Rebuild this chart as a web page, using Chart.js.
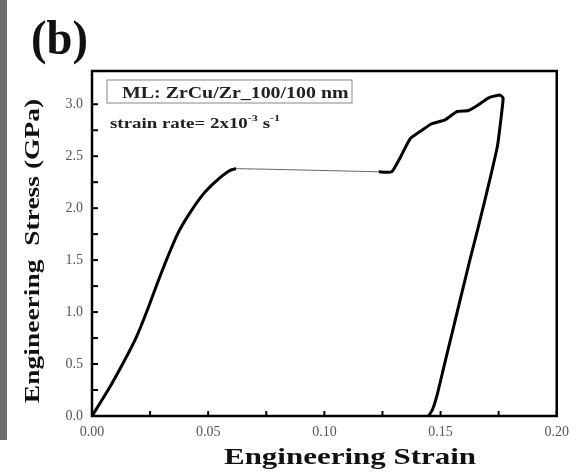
<!DOCTYPE html>
<html>
<head>
<meta charset="utf-8">
<script src="https://cdn.jsdelivr.net/npm/chart.js@4"></script>
<style>
  html, body { margin: 0; padding: 0; background: #fff; }
  #wrap { width: 577px; height: 474px; }
</style>
</head>
<body>
<div id="wrap"><canvas id="stressChart" width="577" height="474"></canvas></div>
<script>
// Engineering strain / stress
const strain = [0, 0.0077, 0.0134, 0.0191, 0.024, 0.028, 0.032, 0.037, 0.042, 0.0477, 0.0534, 0.0591, 0.062,
  0.1234, 0.129, 0.1327, 0.137, 0.142, 0.146, 0.152, 0.157, 0.162, 0.166, 0.1705, 0.1755, 0.1769,
  0.1762, 0.1745, 0.172, 0.169, 0.1658, 0.1626, 0.159, 0.1552, 0.1515, 0.1485, 0.1465, 0.1448];
const stress = [0, 0.28, 0.51, 0.76, 1.03, 1.27, 1.50, 1.76, 1.95, 2.13, 2.26, 2.36, 2.38,
  2.35, 2.35, 2.49, 2.67, 2.75, 2.81, 2.85, 2.93, 2.94, 2.99, 3.06, 3.09, 3.06,
  2.90, 2.60, 2.35, 2.07, 1.78, 1.50, 1.17, 0.82, 0.48, 0.20, 0.06, 0];
const xTicks = [0, 0.05, 0.10, 0.15, 0.20];
const yTicks = [0, 0.5, 1.0, 1.5, 2.0, 2.5, 3.0];

const serif = '"Liberation Serif", "DejaVu Serif", serif';

// text in the figure is a bit stretched sideways
function wideText(c, text, x, y, sx, font, align, rot) {
  c.save();
  c.translate(x, y);
  if (rot) c.rotate(rot);
  c.scale(sx, 1);
  c.font = font;
  c.textAlign = align;
  c.textBaseline = 'alphabetic';
  c.fillText(text, 0, 0);
  c.restore();
}

// frame, inward ticks, titles and text boxes
const decor = {
  id: 'decor',
  beforeDraw(chart) {
    const c = chart.ctx;
    c.save();
    c.fillStyle = '#6e6e6e';
    c.fillRect(0, 0, 7, 440);
    c.fillStyle = '#111';
    wideText(c, '(b)', 31, 54, 0.97, 'bold 48px ' + serif, 'left');
    c.restore();
  },
  afterDraw(chart) {
    const c = chart.ctx;
    const a = chart.chartArea;
    const xs = chart.scales.x, ys = chart.scales.y;
    c.save();
    c.strokeStyle = '#000';
    c.lineWidth = 2;
    for (let v = 0; v <= 0.2001; v += 0.025) {
      const px = xs.getPixelForValue(v);
      c.beginPath(); c.moveTo(px, a.bottom); c.lineTo(px, a.bottom - 5); c.stroke();
    }
    for (let v = 0; v <= 3.001; v += 0.25) {
      const py = ys.getPixelForValue(v);
      c.beginPath(); c.moveTo(a.left, py); c.lineTo(a.left + 6, py); c.stroke();
    }
    c.lineWidth = 2.5;
    c.strokeRect(a.left, a.top, a.right - a.left, a.bottom - a.top);

    // axis titles
    c.fillStyle = '#111';
    wideText(c, 'Engineering Strain', 350, 464, 1.29, 'bold 24px ' + serif, 'center');
    wideText(c, 'Engineering  Stress (GPa)', 39, 251, 1.25, 'bold 22px ' + serif, 'center', -Math.PI / 2);

    // annotation box
    c.lineWidth = 1;
    c.strokeStyle = '#888';
    c.strokeRect(a.left + 15, a.top + 9, 245, 23);
    c.fillStyle = '#222';
    wideText(c, 'ML: ZrCu/Zr_100/100 nm', a.left + 30, a.top + 27, 1.17, 'bold 17px ' + serif, 'left');

    c.save();
    c.translate(a.left + 18, a.top + 57);
    c.scale(1.35, 1);
    c.textBaseline = 'alphabetic';
    let x = 0;
    const put = (t, dy, f) => { c.font = f; c.fillText(t, x, dy); x += c.measureText(t).width; };
    put('strain rate= 2x10', 0, 'bold 14px ' + serif);
    put('-3', -7, 'bold 9px ' + serif);
    put(' s', 0, 'bold 14px ' + serif);
    put('-1', -7, 'bold 9px ' + serif);
    c.restore();
    c.restore();
  }
};

const plateau = s => s.p0.parsed.x >= 0.061 && s.p1.parsed.x <= 0.124;

const ctx = document.getElementById('stressChart').getContext('2d');
const stressChart = new Chart(ctx, {
  type: 'line',
  data: {
    datasets: [{
      data: strain.map((s, i) => ({ x: s, y: stress[i] })),
      borderColor: '#000',
      borderWidth: 3,
      pointRadius: 0,
      tension: 0.15,
      fill: false,
      segment: {
        borderWidth: s => (plateau(s) ? 1 : 3),
        borderColor: s => (plateau(s) ? '#666' : '#000'),
      },
    }],
  },
  options: {
    responsive: false,
    animation: false,
    layout: { padding: { left: 0, top: 71, right: 18, bottom: 0 } },
    plugins: { legend: { display: false }, tooltip: { enabled: false } },
    scales: {
      x: {
        type: 'linear',
        min: 0,
        max: 0.2,
        afterFit: s => { s.height = 58; },
        afterBuildTicks: s => { s.ticks = xTicks.map(v => ({ value: v })); },
        grid: { display: false, drawTicks: false },
        border: { display: false },
        ticks: {
          padding: 8,
          color: '#555',
          font: { family: serif, size: 14 },
          callback: v => v.toFixed(2),
        },
      },
      y: {
        type: 'linear',
        min: 0,
        max: 3.32,
        afterFit: s => { s.width = 92; },
        afterBuildTicks: s => { s.ticks = yTicks.map(v => ({ value: v })); },
        grid: { display: false, drawTicks: false },
        border: { display: false },
        ticks: {
          padding: 9,
          color: '#555',
          font: { family: serif, size: 14 },
          callback: v => v.toFixed(1),
        },
      },
    },
  },
  plugins: [decor],
});
</script>
</body>
</html>
